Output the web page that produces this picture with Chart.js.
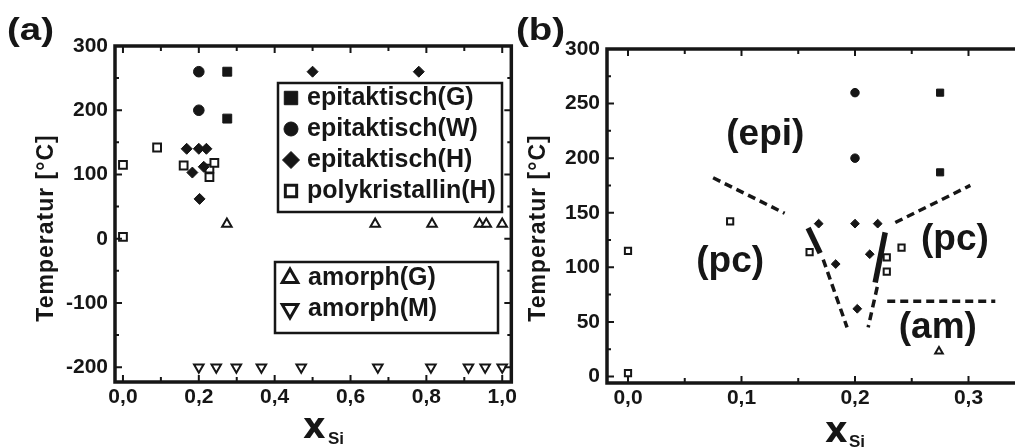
<!DOCTYPE html>
<html>
<head>
<meta charset="utf-8">
<script src="https://cdn.jsdelivr.net/npm/chart.js@4.4.0/dist/chart.umd.min.js"></script>
<style>
  html, body { margin: 0; padding: 0; background: #fff; overflow: hidden; width: 1015px; height: 447px; }
  .panel { position: absolute; top: 0; height: 447px; }
  #panelA { left: 0; width: 520px; }
  #panelB { left: 500px; width: 600px; }
</style>
</head>
<body>
<div class="panel" id="panelA"><canvas id="chartA" width="520" height="447"></canvas></div>
<div class="panel" id="panelB"><canvas id="chartB" width="600" height="447"></canvas></div>
<script>
// Si-Gehalt gegen Abscheidetemperatur
const seriesNames = ['epitaktisch(G)', 'epitaktisch(W)', 'epitaktisch(H)', 'polykristallin(H)', 'amorph(G)', 'amorph(M)']

const epiGx = [0.275, 0.275]
const epiGy = [260, 187]
const epiWx = [0.2, 0.2]
const epiWy = [260, 200]
const epiHx = [0.168, 0.2, 0.22, 0.183, 0.213, 0.202, 0.5, 0.78]
const epiHy = [140, 140, 140, 103, 112, 62, 260, 260]
const polyHx = [0, 0, 0.09, 0.16, 0.228, 0.228, 0.241]
const polyHy = [115, 3, 142, 114, 109, 96, 118]
const amGx = [0.274, 0.665, 0.815, 0.94, 0.958, 1.0]
const amGy = [23, 23, 23, 23, 23, 23]
const amMx = [0.2, 0.246, 0.299, 0.365, 0.47, 0.672, 0.812, 0.911, 0.955, 1.0]
const amMy = [-200, -200, -200, -200, -200, -200, -200, -200, -200, -200]

// phase boundaries in (b)
const dashedX = [[0.075, 0.138], [0.2355, 0.3016], [0.172, 0.193], [0.2196, 0.2116], [0.2284, 0.3236]]
const dashedY = [[182, 149.5], [141, 175], [107, 45], [82, 45], [69, 69]]
const solidX = [[0.1587, 0.1693], [0.2266, 0.2178]]
const solidY = [[136, 113], [132, 86]]
const regionNames = ['(epi)', '(pc)', '(pc)', '(am)']
const regionX = [0.121, 0.09, 0.288, 0.273]
const regionY = [221, 105, 125, 45]

// ticks
const xTicksA = [0, 0.2, 0.4, 0.6, 0.8, 1.0]
const xLabelsA = ['0,0', '0,2', '0,4', '0,6', '0,8', '1,0']
const yTicksA = [-200, -100, 0, 100, 200, 300]
const yLabelsA = ['-200', '-100', '0', '100', '200', '300']
const xTicksB = [0, 0.1, 0.2, 0.3, 0.4]
const xLabelsB = ['0,0', '0,1', '0,2', '0,3', '0,4']
const yTicksB = [0, 50, 100, 150, 200, 250, 300]
const yLabelsB = ['0', '50', '100', '150', '200', '250', '300']

const INK = '#161616'
const SANS = '"Liberation Sans", Arial, sans-serif'

Chart.defaults.font.family = SANS
Chart.defaults.font.weight = 'bold'
Chart.defaults.color = INK

const pts = (xs, ys) => xs.map((x, i) => ({ x: x, y: ys[i] }))

// k scales the marker size (panel b uses smaller symbols)
function markerSets(k) {
    return [
        { label: seriesNames[0], data: pts(epiGx, epiGy), pointStyle: 'rect', pointRadius: 6.3 * k,
          backgroundColor: INK, borderColor: INK, borderWidth: 1 },
        { label: seriesNames[1], data: pts(epiWx, epiWy), pointStyle: 'circle', pointRadius: 5.3 * k,
          backgroundColor: INK, borderColor: INK, borderWidth: 1 },
        { label: seriesNames[2], data: pts(epiHx, epiHy), pointStyle: 'rectRot', pointRadius: 5.5 * k,
          backgroundColor: INK, borderColor: INK, borderWidth: 1 },
        { label: seriesNames[3], data: pts(polyHx, polyHy), pointStyle: 'rect', pointRadius: 5.5 * k,
          backgroundColor: '#fff', borderColor: INK, borderWidth: 2 },
        { label: seriesNames[4], data: pts(amGx, amGy), pointStyle: 'triangle', pointRadius: 5.5 * k,
          backgroundColor: '#fff', borderColor: INK, borderWidth: 2 },
        { label: seriesNames[5], data: pts(amMx, amMy), pointStyle: 'triangle', pointRotation: 180,
          pointRadius: 5.5 * k, backgroundColor: '#fff', borderColor: INK, borderWidth: 2 }
    ]
}

function boundarySets() {
    const sets = []
    dashedX.forEach((xs, i) => sets.push({
        data: pts(xs, dashedY[i]), showLine: true, pointRadius: 0,
        borderColor: INK, borderWidth: 3.5, borderDash: [8, 5]
    }))
    solidX.forEach((xs, i) => sets.push({
        data: pts(xs, solidY[i]), showLine: true, pointRadius: 0,
        borderColor: INK, borderWidth: 5.5
    }))
    return sets
}

// frame round the plot with inward major/minor ticks on all four sides
const frameTicks = {
    id: 'frameTicks',
    afterDatasetsDraw(chart) {
        const { ctx, chartArea: a } = chart
        const xs = chart.scales.x, ys = chart.scales.y
        const marks = (scale) => {
            const vals = scale.ticks.map(t => t.value)
            const half = (vals[1] - vals[0]) / 2
            const out = []
            for (let i = -2; i <= 2 * vals.length + 2; i++) {
                const v = vals[0] + i * half
                if (v >= scale.min - 1e-9 && v <= scale.max + 1e-9) out.push({ v: v, major: i % 2 === 0 })
            }
            return out
        }
        ctx.save()
        ctx.strokeStyle = INK
        ctx.lineWidth = 2
        marks(xs).forEach(m => {
            const px = xs.getPixelForValue(m.v)
            const len = m.major ? 7 : 5
            ctx.beginPath()
            ctx.moveTo(px, a.bottom); ctx.lineTo(px, a.bottom - len)
            ctx.moveTo(px, a.top); ctx.lineTo(px, a.top + len)
            ctx.stroke()
        })
        marks(ys).forEach(m => {
            const py = ys.getPixelForValue(m.v)
            const len = m.major ? 7 : 4
            ctx.beginPath()
            ctx.moveTo(a.left, py); ctx.lineTo(a.left + len, py)
            ctx.moveTo(a.right, py); ctx.lineTo(a.right - len, py)
            ctx.stroke()
        })
        ctx.lineWidth = 3.5
        ctx.strokeRect(a.left, a.top, a.right - a.left, a.bottom - a.top)
        ctx.restore()
    }
}

// boxed legends inside panel (a)
const boxLegend = {
    id: 'boxLegend',
    afterDraw(chart, args, opts) {
        if (!opts.boxes) return
        const ctx = chart.ctx
        ctx.save()
        opts.boxes.forEach(b => {
            ctx.strokeStyle = INK
            ctx.lineWidth = 2.5
            ctx.strokeRect(b.left, b.top, b.width, b.height)
            b.items.forEach((di, k) => {
                const ds = chart.data.datasets[di]
                const cy = b.firstRow + k * b.rowGap
                ctx.fillStyle = ds.backgroundColor
                ctx.strokeStyle = ds.borderColor
                ctx.lineWidth = ds.borderWidth === 1 ? 1 : 3
                Chart.helpers.drawPoint(ctx, {
                    pointStyle: ds.pointStyle, rotation: ds.pointRotation || 0,
                    radius: b.radius[k], borderWidth: ctx.lineWidth
                }, b.symbolX, cy)
                ctx.fillStyle = INK
                ctx.font = 'bold 25px ' + SANS
                ctx.textAlign = 'left'
                ctx.textBaseline = 'middle'
                ctx.fillText(ds.label, b.textX, cy)
            })
        })
        ctx.restore()
    }
}

// panel letters, axis titles and region names
const textLayer = {
    id: 'textLayer',
    afterDraw(chart, args, opts) {
        const ctx = chart.ctx
        ctx.save()
        ctx.fillStyle = INK;
        (opts.items || []).forEach(t => {
            let x = t.x, y = t.y
            if (t.data) {
                x = chart.scales.x.getPixelForValue(t.x)
                y = chart.scales.y.getPixelForValue(t.y)
            }
            ctx.save()
            ctx.translate(x, y)
            if (t.rotate) ctx.rotate(t.rotate)
            if (t.scaleX) ctx.scale(t.scaleX, 1)
            ctx.font = t.font
            if (t.spacing) ctx.letterSpacing = t.spacing
            ctx.textAlign = t.align || 'left'
            ctx.textBaseline = t.baseline || 'alphabetic'
            ctx.fillText(t.text, 0, 0)
            ctx.restore()
        })
        ctx.restore()
    }
}

function axes(cfg) {
    return {
        x: {
            type: 'linear', min: cfg.xMin, max: cfg.xMax,
            grid: { display: false, drawTicks: false }, border: { display: false },
            afterBuildTicks: s => { s.ticks = cfg.xTicks.map(v => ({ value: v })) },
            afterFit: s => { s.height = cfg.xHeight },
            ticks: { padding: 3, font: { size: 21, weight: 'bold' }, color: INK,
                     callback: (v, i) => cfg.xLabels[i] }
        },
        y: {
            type: 'linear', min: cfg.yMin, max: cfg.yMax,
            grid: { display: false, drawTicks: false }, border: { display: false },
            afterBuildTicks: s => { s.ticks = cfg.yTicks.map(v => ({ value: v })) },
            afterFit: s => { s.width = cfg.yWidth },
            ticks: { padding: 7, font: { size: 21, weight: 'bold' }, color: INK,
                     callback: (v, i) => cfg.yLabels[i] }
        }
    }
}

const titleFont = 'bold 23px ' + SANS
const xFont = 'bold 35px "DejaVu Sans", sans-serif'
const subFont = 'bold 17px ' + SANS

new Chart(document.getElementById('chartA').getContext('2d'), {
    type: 'scatter',
    data: { datasets: markerSets(1) },
    options: {
        responsive: false, animation: false, devicePixelRatio: 1, events: [],
        layout: { padding: { left: 0, top: 46, right: 8, bottom: 0 } },
        scales: axes({ xMin: -0.021, xMax: 1.024, yMin: -223, yMax: 300,
                       xTicks: xTicksA, xLabels: xLabelsA, yTicks: yTicksA, yLabels: yLabelsA,
                       xHeight: 65, yWidth: 115 }),
        plugins: {
            legend: { display: false }, tooltip: { enabled: false },
            boxLegend: {
                boxes: [
                    { left: 278, top: 83, width: 224, height: 129, items: [0, 1, 2, 3],
                      firstRow: 98, rowGap: 31, symbolX: 291, textX: 307, radius: [9.5, 7, 8.5, 8] },
                    { left: 275, top: 262, width: 223, height: 71, items: [4, 5],
                      firstRow: 278, rowGap: 31, symbolX: 290, textX: 308, radius: [9, 9] }
                ]
            },
            textLayer: {
                items: [
                    { text: '(a)', x: 7, y: 40, font: 'bold 32px ' + SANS, scaleX: 1.2 },
                    { text: 'Temperatur [°C]', x: 47, y: 228, font: titleFont, spacing: '1px',
                      rotate: -Math.PI / 2, align: 'center', baseline: 'middle' },
                    { text: 'x', x: 303, y: 438, font: xFont },
                    { text: 'Si', x: 328, y: 444, font: subFont }
                ]
            }
        }
    },
    plugins: [frameTicks, boxLegend, textLayer]
})

new Chart(document.getElementById('chartB').getContext('2d'), {
    type: 'scatter',
    data: { datasets: markerSets(0.8).concat(boundarySets()) },
    options: {
        responsive: false, animation: false, devicePixelRatio: 1, events: [],
        layout: { padding: { left: 0, top: 49, right: 18, bottom: 0 } },
        scales: axes({ xMin: -0.0185, xMax: 0.4, yMin: -6, yMax: 300,
                       xTicks: xTicksB, xLabels: xLabelsB, yTicks: yTicksB, yLabels: yLabelsB,
                       xHeight: 64, yWidth: 107 }),
        plugins: {
            legend: { display: false }, tooltip: { enabled: false },
            textLayer: {
                items: [
                    { text: '(b)', x: 16, y: 40, font: 'bold 32px ' + SANS, scaleX: 1.2 },
                    { text: 'Temperatur [°C]', x: 39, y: 228, font: titleFont, spacing: '1px',
                      rotate: -Math.PI / 2, align: 'center', baseline: 'middle' }
                ].concat(regionNames.map((name, i) => ({
                    text: name, x: regionX[i], y: regionY[i], data: true,
                    font: 'bold 37px ' + SANS, align: 'center', baseline: 'middle'
                }))).concat([
                    { text: 'x', x: 325, y: 442, font: xFont },
                    { text: 'Si', x: 349, y: 447, font: subFont }
                ])
            }
        }
    },
    plugins: [frameTicks, textLayer]
})
</script>
</body>
</html>
